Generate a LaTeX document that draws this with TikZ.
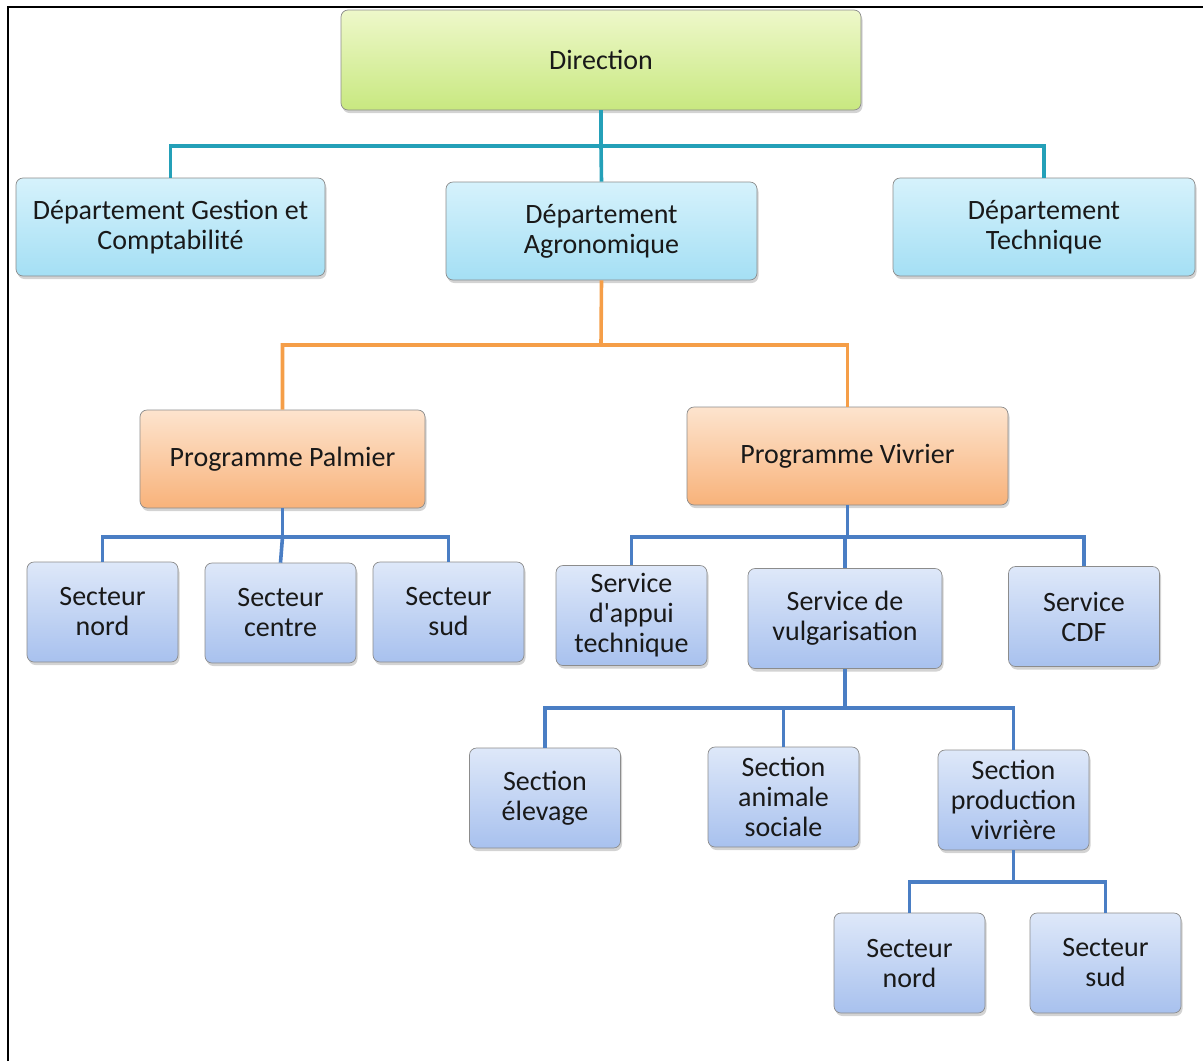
\documentclass[tikz,border=0pt]{standalone}
\usepackage{fontspec}
\setmainfont{Carlito}
\usetikzlibrary{shadows}
\definecolor{vertclair}{RGB}{238,248,202}
\definecolor{vertfonce}{RGB}{200,232,128}
\definecolor{cyanclair}{RGB}{214,242,252}
\definecolor{cyanfonce}{RGB}{164,223,244}
\definecolor{orangeclair}{RGB}{253,228,206}
\definecolor{orangefonce}{RGB}{248,178,122}
\definecolor{bleuclair}{RGB}{222,232,249}
\definecolor{bleufonce}{RGB}{168,193,238}
\definecolor{sarcelle}{RGB}{36,160,184}
\definecolor{orangelien}{RGB}{245,158,72}
\definecolor{bleulien}{RGB}{74,126,196}

\begin{document}
\begin{tikzpicture}[x=1pt,y=-1pt,
  boite/.style={draw=black!45, line width=0.7pt, rounded corners=7pt,
    inner sep=0pt, align=center, text=black!90,
    font=\fontsize{28}{30}\selectfont,
    drop shadow={opacity=0.35, shadow xshift=1.5pt, shadow yshift=-3pt}},
  vert/.style={boite, top color=vertclair, bottom color=vertfonce},
  cyan/.style={boite, top color=cyanclair, bottom color=cyanfonce},
  orange/.style={boite, top color=orangeclair, bottom color=orangefonce},
  bleu/.style={boite, top color=bleuclair, bottom color=bleufonce,
    minimum width=151pt, minimum height=100pt},
  lien/.style={line width=3.6pt},
  liensarcelle/.style={lien, draw=sarcelle},
  lienorange/.style={lien, draw=orangelien},
  lienbleu/.style={lien, draw=bleulien}
]
\useasboundingbox (0,0) rectangle (1203,1061);
\draw[line width=1.6pt] (8,1061) -- (8,7) -- (1203,7);

% niveau 1 et 2
\node[vert, minimum width=520pt, minimum height=100pt] (D) at (601,60) {Direction};
\node[cyan, minimum width=309pt, minimum height=98pt] (G) at (170.5,227) {D\'epartement Gestion et\\Comptabilit\'e};
\node[cyan, minimum width=311pt, minimum height=98pt] (A) at (601.5,231) {D\'epartement\\Agronomique};
\node[cyan, minimum width=302pt, minimum height=98pt] (T) at (1044,227) {D\'epartement\\Technique};

% programmes
\node[orange, minimum width=285pt, minimum height=98pt] (P1) at (282.5,459) {Programme Palmier};
\node[orange, minimum width=321pt, minimum height=98pt] (P2) at (847.5,456) {Programme Vivrier};

% secteurs du programme palmier
\node[bleu] (S1) at (102.5,612) {Secteur\\nord};
\node[bleu] (S2) at (280.5,613) {Secteur\\centre};
\node[bleu] (S3) at (448.5,612) {Secteur\\sud};

% services du programme vivrier
\node[bleu] (V1) at (631.5,615.5) {Service\\d\textquotesingle appui\\technique};
\node[bleu, minimum width=194pt] (V2) at (845,618.5) {Service de\\vulgarisation};
\node[bleu] (V3) at (1084,616.5) {Service\\CDF};

% sections
\node[bleu] (C1) at (545,798) {Section\\\'elevage};
\node[bleu] (C2) at (783.5,797) {Section\\animale\\sociale};
\node[bleu] (C3) at (1013.5,800) {Section\\production\\vivri\`ere};

% secteurs de la section production
\node[bleu] (R1) at (909.5,963) {Secteur\\nord};
\node[bleu] (R2) at (1105.5,963) {Secteur\\sud};

% bus
\coordinate (b1) at (601,146);
\coordinate (b2) at (601,345);
\coordinate (b3) at (282.5,537);
\coordinate (b4) at (847.5,537);
\coordinate (b5) at (845,708);
\coordinate (b6) at (1013.5,882);

\draw[liensarcelle] (D.south) -- (b1) -| (G.north);
\draw[liensarcelle] (b1) -| (T.north);
\draw[liensarcelle] (b1) -- (A.north);

\draw[lienorange] (A.south) -- (b2) -| (P1.north);
\draw[lienorange] (b2) -| (P2.north);

\draw[lienbleu] (P1.south) -- (b3) -| (S1.north);
\draw[lienbleu] (b3) -| (S3.north);
\draw[lienbleu] (b3) -- (S2.north);

\draw[lienbleu] (P2.south) -- (b4) -| (V1.north);
\draw[lienbleu] (b4) -| (V3.north);
\draw[lienbleu] (b4) -| (V2.north);

\draw[lienbleu] (V2.south) -- (b5) -| (C1.north);
\draw[lienbleu] (b5) -| (C3.north);
\draw[lienbleu] (b5) -| (C2.north);

\draw[lienbleu] (C3.south) -- (b6) -| (R1.north);
\draw[lienbleu] (b6) -| (R2.north);
\end{tikzpicture}
\end{document}
